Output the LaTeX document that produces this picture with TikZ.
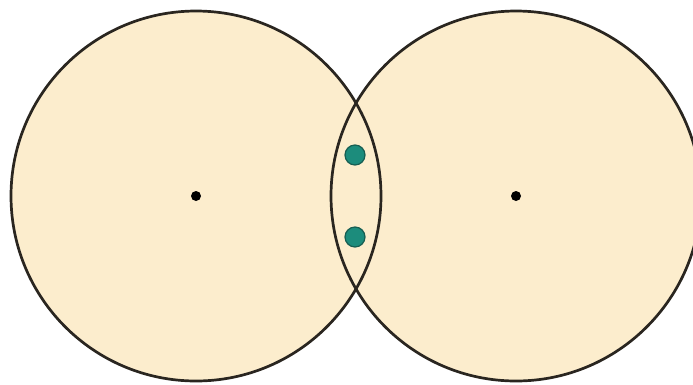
\documentclass[tikz,border=0pt]{standalone}
\definecolor{disk}{HTML}{FCEDCD}
\definecolor{rim}{HTML}{2A2620}
\definecolor{teal}{HTML}{1C8C7C}
\definecolor{tealrim}{HTML}{175E52}
\tikzset{
  diskfill/.style={fill=disk, draw=none},
  diskrim/.style={draw=rim, line width=2.7pt},
  center/.style={circle, fill=black, inner sep=0pt, minimum size=10pt},
  greendot/.style={circle, fill=teal, draw=tealrim, line width=1.2pt, inner sep=0pt, minimum size=20pt}
}
\begin{document}
\begin{tikzpicture}[x=1pt,y=-1pt]
\useasboundingbox (0,0) rectangle (693,384);
\fill[white] (0,0) rectangle (693,384);
\coordinate (cl) at (196,196);
\coordinate (cr) at (516,196);
\fill[diskfill] (cl) circle (185);
\fill[diskfill] (cr) circle (185);
\draw[diskrim] (cl) circle (185);
\draw[diskrim] (cr) circle (185);
\node[center] (dl) at (cl) {};
\node[center] (dr) at (cr) {};
\node[greendot] (g1) at (355,155) {};
\node[greendot] (g2) at (355,237) {};
\end{tikzpicture}
\end{document}
